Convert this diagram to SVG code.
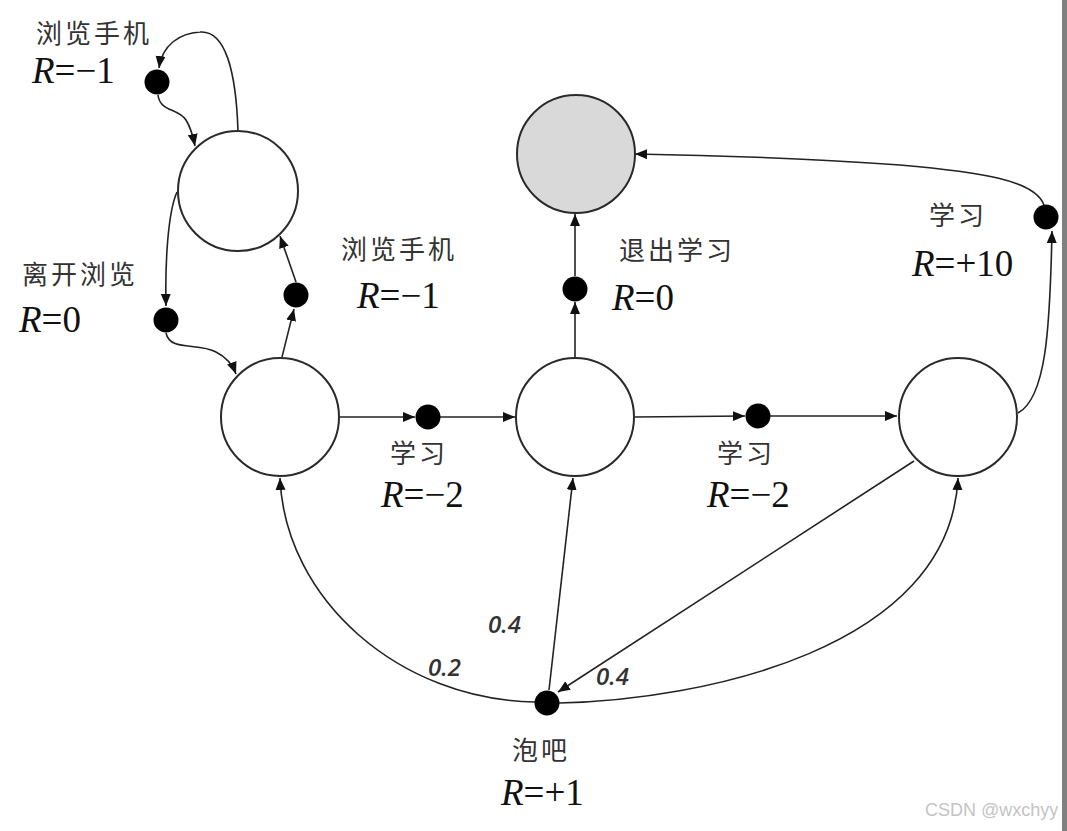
<svg xmlns="http://www.w3.org/2000/svg" width="1067" height="831" viewBox="0 0 1067 831">
<defs>
<marker id="ah" markerUnits="userSpaceOnUse" markerWidth="13" markerHeight="11" refX="12" refY="5" orient="auto">
<path d="M0,0 L12,5 L0,10 z" fill="#111"/>
</marker>
<style>
.st{fill:#fff;stroke:#2a2a2a;stroke-width:2}
.term{fill:#d9d9d9;stroke:#2a2a2a;stroke-width:2}
.dot{fill:#000}
.e{fill:none;stroke:#222;stroke-width:1.6;marker-end:url(#ah)}
.cn{font-family:"Noto Sans CJK SC","Noto Sans",sans-serif;font-size:26px;letter-spacing:3px;fill:#333}
.r{font-family:"Liberation Serif",serif;font-size:37px;fill:#111}
.p{font-family:"Open Sans","Liberation Sans",sans-serif;font-size:24px;font-style:italic;font-weight:600;fill:#333}
.wm{font-family:"Liberation Sans",sans-serif;font-size:18px;fill:#c4c4c4}
</style>
</defs>
<rect width="1067" height="831" fill="#fff"/>

<g id="edges">
<path class="e" d="M238,131 C236,70 225,30 200,32 C180,33 162,45 159,68"/>
<path class="e" d="M158,95 C160,112 178,108 186,120 C191,128 193,136 195,146"/>
<path class="e" d="M177,192 C168,212 165,262 166,306"/>
<path class="e" d="M166,333 C170,352 198,342 216,352 C228,358 233,366 236,374"/>
<path class="e" d="M282,357 L294,309"/>
<path class="e" d="M296,282 L280,236"/>
<path class="e" d="M339,417 L415,417"/>
<path class="e" d="M440,417 L515,417"/>
<path class="e" d="M635,417 L745,416"/>
<path class="e" d="M770,416 L897,416"/>
<path class="e" d="M575,357 L575,302"/>
<path class="e" d="M575,276 L575,214"/>
<path class="e" d="M1018,413 C1046,398 1050,330 1052,231"/>
<path class="e" d="M1044,205 C1035,180 980,172 900,165 C800,158 700,155 635,154"/>
<path class="e" d="M535,702 C400,700 285,600 280,478"/>
<path class="e" d="M549,690 L573,478"/>
<path class="e" d="M914,461 L558,692"/>
<path class="e" d="M559,703 C700,700 950,650 958,478"/>
</g>

<g id="s_browse"><circle class="st" cx="238" cy="191" r="60"/></g>
<g id="s_class1"><circle class="st" cx="280" cy="417" r="59"/></g>
<g id="s_class2"><circle class="st" cx="575" cy="417" r="59"/></g>
<g id="s_class3"><circle class="st" cx="958" cy="417" r="59"/></g>
<g id="s_sleep"><circle class="term" cx="576" cy="154" r="59"/></g>

<g id="a_browse_loop"><circle class="dot" cx="157" cy="82" r="12.5"/>
<text class="cn" x="36" y="43">浏览手机</text><text class="r" x="32" y="83"><tspan font-style="italic">R</tspan>=−1</text></g>
<g id="a_leave"><circle class="dot" cx="166" cy="320" r="12.5"/>
<text class="cn" x="22" y="284">离开浏览</text><text class="r" x="19" y="332"><tspan font-style="italic">R</tspan>=0</text></g>
<g id="a_browse"><circle class="dot" cx="296" cy="295" r="12.5"/>
<text class="cn" x="341" y="259">浏览手机</text><text class="r" x="357" y="308"><tspan font-style="italic">R</tspan>=−1</text></g>
<g id="a_study1"><circle class="dot" cx="428" cy="417" r="12.5"/>
<text class="cn" x="390" y="463">学习</text><text class="r" x="381" y="507"><tspan font-style="italic">R</tspan>=−2</text></g>
<g id="a_study2"><circle class="dot" cx="758" cy="416" r="12.5"/>
<text class="cn" x="717" y="463">学习</text><text class="r" x="707" y="507"><tspan font-style="italic">R</tspan>=−2</text></g>
<g id="a_quit"><circle class="dot" cx="575" cy="289" r="12.5"/>
<text class="cn" x="619" y="260">退出学习</text><text class="r" x="612" y="310"><tspan font-style="italic">R</tspan>=0</text></g>
<g id="a_study3"><circle class="dot" cx="1046" cy="217" r="12.5"/>
<text class="cn" x="929" y="225">学习</text><text class="r" x="912" y="276"><tspan font-style="italic">R</tspan>=+10</text></g>
<g id="a_pub"><circle class="dot" cx="547" cy="703" r="12.5"/>
<text class="cn" x="512" y="760">泡吧</text><text class="r" x="501" y="805"><tspan font-style="italic">R</tspan>=+1</text></g>

<g id="probs">
<text class="p" x="488" y="633">0.4</text>
<text class="p" x="428" y="676">0.2</text>
<text class="p" x="596" y="685">0.4</text>
</g>

<text class="wm" x="925" y="816">CSDN @wxchyy</text>
<rect x="1062" y="0" width="5" height="831" fill="#808080"/>
</svg>
